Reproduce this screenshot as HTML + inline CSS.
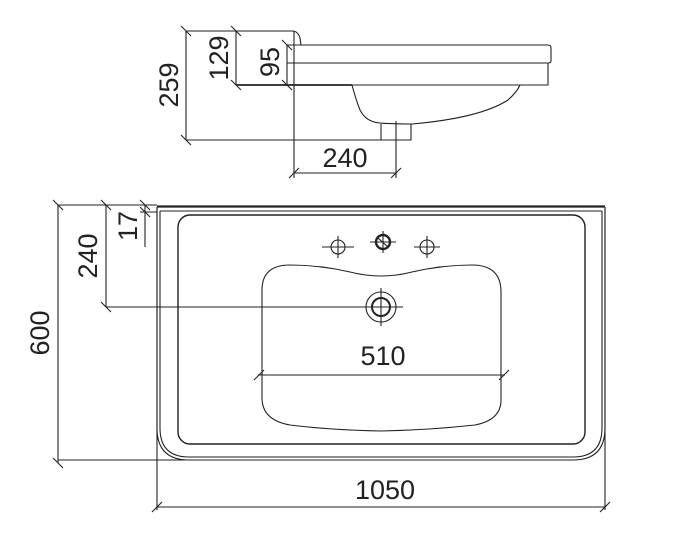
<!DOCTYPE html>
<html><head><meta charset="utf-8"><style>
html,body{margin:0;padding:0;background:#fff;}
svg{display:block;}
text{font-family:"Liberation Sans",Arial,sans-serif;fill:#222;}
</style></head><body>
<svg width="673" height="539" viewBox="0 0 673 539" xmlns="http://www.w3.org/2000/svg">
<g fill="none" stroke="#222" stroke-width="1.1">
<!-- SIDE VIEW -->
<line x1="186" y1="31" x2="186" y2="140"/>
<line x1="181" y1="26" x2="191" y2="36"/><line x1="181" y1="135" x2="191" y2="145"/>
<line x1="236" y1="31" x2="236" y2="85"/>
<line x1="231" y1="26" x2="241" y2="36"/><line x1="231" y1="80" x2="241" y2="90"/>
<line x1="287" y1="45" x2="287" y2="85"/>
<line x1="282" y1="40" x2="292" y2="50"/><line x1="282" y1="80" x2="292" y2="90"/>
<line x1="186" y1="31" x2="292" y2="31"/>
<path d="M292 31 Q298 31 300 38 L301 45"/>
<line x1="236" y1="85" x2="352" y2="85" stroke-width="1.8"/>
<line x1="186" y1="140" x2="382" y2="140"/>
<line x1="294" y1="31" x2="294" y2="178"/>
<!-- rim -->
<path d="M287 45 L548 45 Q551 45 551 48 L551 61 Q551 63 548 63 L548 85 L352 85"/>
<line x1="287" y1="63" x2="548" y2="63"/>
<!-- bowl -->
<path d="M352 85 Q356 100 360 110 Q366 122 380 123 Q390 124 412 124 Q480 118 508 100 Q517 92 520 85"/>
<path d="M381 124 L381 140 L411 140 L411 124"/>
<line x1="396" y1="121" x2="396" y2="178"/>
<line x1="294" y1="173" x2="396" y2="173"/>
<line x1="289" y1="178" x2="299" y2="168"/><line x1="391" y1="178" x2="401" y2="168"/>

<!-- TOP VIEW dims -->
<line x1="58" y1="205" x2="58" y2="463"/>
<line x1="53" y1="200" x2="63" y2="210"/><line x1="53" y1="458" x2="63" y2="468"/>
<line x1="58" y1="205" x2="157" y2="205"/>
<line x1="58" y1="460" x2="185" y2="460"/>
<line x1="106" y1="205" x2="106" y2="307"/>
<line x1="101" y1="200" x2="111" y2="210"/><line x1="101" y1="302" x2="111" y2="312"/>
<line x1="106" y1="307" x2="398" y2="307"/>
<line x1="145" y1="205" x2="145" y2="247"/>
<line x1="140" y1="200" x2="150" y2="210"/><line x1="140" y1="207" x2="150" y2="217"/>
<line x1="140" y1="212" x2="157" y2="212"/>
<line x1="157" y1="207" x2="157" y2="510"/>
<line x1="605" y1="207" x2="605" y2="510"/>
<line x1="157" y1="507" x2="605" y2="507"/>
<line x1="152" y1="512" x2="162" y2="502"/><line x1="600" y1="512" x2="610" y2="502"/>
<!-- outer -->
<line x1="157" y1="206.5" x2="605" y2="206.5" stroke-width="2.2"/>
<path d="M157 207 L157 428 Q157 460 189 460 L573 460 Q605 460 605 428 L605 207"/>
<path d="M160 211 L160 428 Q160 457 189 457 L573 457 Q602 457 602 428 L602 211"/>
<line x1="160" y1="211" x2="602" y2="211"/>
<!-- inner -->
<rect x="178" y="215" width="407" height="229" rx="12" stroke-width="1.4"/>
<!-- bowl -->
<path d="M262 290 Q262 265 290 265 Q320 265 350 272 Q381 280 412 272 Q442 265 472 265 Q501 265 501 292 L501 400 Q501 420 475 425 Q430 430 381 431 Q330 430 290 425 Q262 420 262 398 Z"/>
<line x1="258" y1="375" x2="505" y2="375"/>
<line x1="254" y1="380" x2="264" y2="370"/><line x1="499" y1="380" x2="509" y2="370"/>
<!-- drain -->
<circle cx="381" cy="307" r="15"/>
<circle cx="381" cy="307" r="9" stroke-width="2"/>
<line x1="381" y1="288" x2="381" y2="326"/>
<line x1="381" y1="307" x2="403" y2="307"/>
<!-- taps -->
<circle cx="338" cy="247" r="7"/>
<line x1="322" y1="247" x2="354" y2="247"/><line x1="338" y1="236" x2="338" y2="258"/>
<circle cx="427" cy="247" r="7"/>
<line x1="414" y1="247" x2="440" y2="247"/><line x1="427" y1="236" x2="427" y2="258"/>
<circle cx="383" cy="242" r="7" stroke-width="2.4"/>
<line x1="370" y1="242" x2="396" y2="242"/><line x1="383" y1="231" x2="383" y2="253"/>
<line x1="378" y1="238" x2="388" y2="247"/>
</g>
<g font-size="27">
<text transform="translate(178 85) rotate(-90)" text-anchor="middle">259</text>
<text transform="translate(228 58) rotate(-90)" text-anchor="middle">129</text>
<text transform="translate(279 62) rotate(-90)" text-anchor="middle">95</text>
<text x="345" y="167" text-anchor="middle">240</text>
<text transform="translate(49 333) rotate(-90)" text-anchor="middle">600</text>
<text transform="translate(97 256) rotate(-90)" text-anchor="middle">240</text>
<text transform="translate(137 226) rotate(-90)" text-anchor="middle">17</text>
<text x="383" y="365" text-anchor="middle">510</text>
<text x="385" y="499" text-anchor="middle">1050</text>
</g>
</svg>
</body></html>
